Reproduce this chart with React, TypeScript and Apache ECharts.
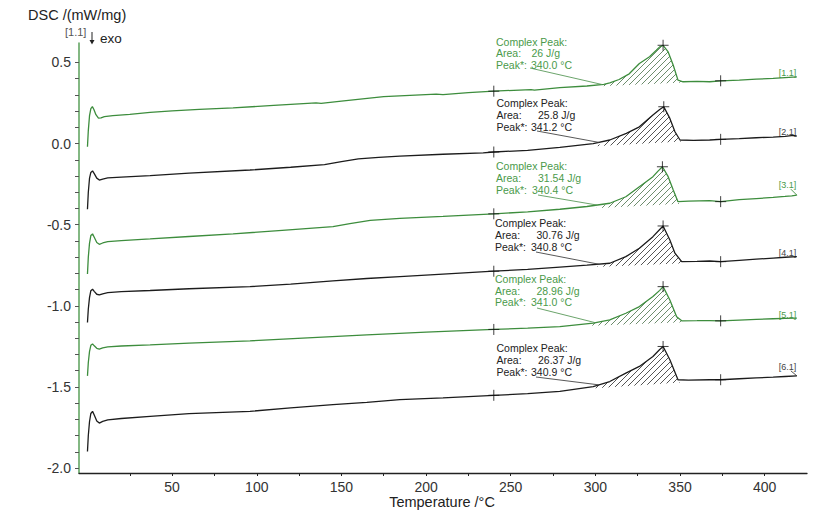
import React, { useEffect, useRef } from "react";
import * as echarts from "echarts";

// ---------- data ----------
const tempTicks = [25, 50, 75, 100, 125, 150, 175, 200, 225, 250, 275, 300, 325, 350, 375, 400];
const tempLabels = [50, 100, 150, 200, 250, 300, 350, 400];
const dscTicks = [-2.0, -1.9, -1.8, -1.7, -1.6, -1.5, -1.4, -1.3, -1.2, -1.1, -1.0, -0.9, -0.8, -0.7, -0.6, -0.5, -0.4, -0.3, -0.2, -0.1, 0.0, 0.1, 0.2, 0.3, 0.4, 0.5];
const dscLabels = [-2.0, -1.5, -1.0, -0.5, 0.0, 0.5];
const xTitle = "Temperature /°C";
const yTitle = "DSC /(mW/mg)";

const curve1: number[][] = [
  [0, -0.02], [0.5, 0.08], [1.2, 0.17], [2, 0.215], [2.9, 0.228], [3.8, 0.21], [5, 0.178], [6.5, 0.157], [8, 0.158], [10, 0.166], [15, 0.172], [25, 0.18], [37, 0.192], [50, 0.202], [66, 0.211], [86, 0.22], [110, 0.235], [135, 0.251], [138, 0.248], [150, 0.262], [175, 0.29], [206, 0.305], [210, 0.302], [225, 0.314], [240, 0.323], [262, 0.333], [264, 0.33], [279, 0.345], [295, 0.355], [305, 0.365], [308.5, 0.374], [314, 0.395], [320, 0.43], [326, 0.494], [332, 0.535], [336, 0.575], [338, 0.596], [340, 0.606], [343, 0.565], [346, 0.483], [348.8, 0.391], [351.8, 0.381], [360, 0.383], [367.5, 0.381], [374, 0.387], [385, 0.391], [395, 0.397], [405, 0.402], [412, 0.407], [419, 0.411],
];
const curve2: number[][] = [
  [0, -0.405], [0.5, -0.3], [1.2, -0.215], [2, -0.178], [3, -0.169], [4, -0.185], [5.5, -0.213], [7, -0.225], [9, -0.219], [12, -0.212], [20, -0.207], [37, -0.198], [60, -0.182], [96, -0.163], [120, -0.146], [140, -0.13], [150, -0.112], [160, -0.095], [172, -0.085], [184.5, -0.077], [210, -0.066], [233.7, -0.057], [240, -0.052], [260, -0.042], [279, -0.024], [298.7, 0.0], [308.5, 0.022], [318.3, 0.063], [326, 0.103], [334, 0.176], [338, 0.21], [340.4, 0.227], [344, 0.155], [347, 0.073], [350, 0.022], [358, 0.02], [367.5, 0.022], [374, 0.026], [385, 0.03], [395, 0.036], [405, 0.04], [412, 0.044], [417, 0.05], [419, 0.046],
];
const curve3: number[][] = [
  [0, -0.804], [0.5, -0.7], [1.2, -0.615], [2, -0.567], [3, -0.557], [4, -0.578], [5.5, -0.61], [7, -0.621], [9, -0.613], [12, -0.604], [20, -0.598], [37, -0.588], [60, -0.573], [86, -0.557], [115, -0.535], [145, -0.512], [155, -0.493], [167, -0.474], [184.5, -0.461], [210, -0.449], [240, -0.433], [260, -0.421], [279, -0.405], [295, -0.388], [308.5, -0.368], [318, -0.328], [326, -0.266], [334, -0.204], [337, -0.17], [339.6, -0.143], [343, -0.204], [346, -0.286], [348.8, -0.358], [355, -0.355], [367.5, -0.352], [374, -0.358], [385, -0.346], [395, -0.339], [405, -0.332], [412, -0.326], [416, -0.322], [419, -0.318],
];
const curve4: number[][] = [
  [0, -1.103], [0.5, -1.02], [1.2, -0.95], [2, -0.907], [3, -0.898], [4, -0.911], [5.5, -0.929], [7, -0.933], [9, -0.926], [12, -0.919], [20, -0.913], [37, -0.906], [60, -0.895], [96, -0.882], [120, -0.866], [145, -0.847], [165, -0.832], [184.5, -0.82], [210, -0.805], [240, -0.787], [260, -0.776], [279, -0.762], [295, -0.75], [308.5, -0.738], [318, -0.697], [326, -0.645], [334, -0.574], [338, -0.53], [340, -0.508], [344, -0.594], [347, -0.676], [351, -0.728], [360, -0.726], [367.5, -0.724], [374, -0.728], [385, -0.72], [395, -0.713], [405, -0.706], [412, -0.701], [419, -0.697],
];
const curve5: number[][] = [
  [0, -1.432], [0.5, -1.35], [1.2, -1.283], [2, -1.244], [3, -1.235], [4, -1.247], [5.5, -1.262], [7, -1.267], [9, -1.259], [12, -1.253], [20, -1.248], [37, -1.241], [60, -1.23], [96, -1.216], [130, -1.198], [165, -1.179], [200, -1.163], [240, -1.146], [260, -1.138], [279, -1.128], [298.7, -1.107], [308.5, -1.087], [318, -1.046], [326, -1.005], [334, -0.943], [338, -0.905], [340, -0.882], [344, -0.964], [348, -1.067], [351, -1.093], [360, -1.092], [367.5, -1.091], [374, -1.093], [385, -1.088], [395, -1.084], [405, -1.08], [412, -1.078], [419, -1.076],
];
const curve6: number[][] = [
  [0, -1.898], [0.5, -1.8], [1.2, -1.715], [2, -1.664], [3, -1.651], [4, -1.674], [5.5, -1.71], [7, -1.723], [9, -1.713], [12, -1.704], [20, -1.695], [37, -1.682], [60, -1.665], [96, -1.651], [120, -1.63], [145, -1.61], [165, -1.595], [184.5, -1.579], [210, -1.568], [240, -1.552], [260, -1.542], [279, -1.528], [298.7, -1.498], [308.5, -1.467], [318, -1.415], [326, -1.374], [334, -1.313], [338, -1.27], [340, -1.251], [344, -1.333], [348.8, -1.456], [355, -1.458], [367.5, -1.456], [374, -1.456], [385, -1.45], [395, -1.445], [405, -1.44], [412, -1.436], [419, -1.432],
];

// integration limits and peak markers: [start, peak, end]
const markers1 = [[240, 0.323], [340, 0.606], [374, 0.387]];
const markers2 = [[240, -0.052], [340.4, 0.227], [374, 0.026]];
const markers3 = [[240, -0.433], [339.6, -0.143], [374, -0.358]];
const markers4 = [[240, -0.787], [340, -0.508], [374, -0.728]];
const markers5 = [[240, -1.146], [340, -0.882], [374, -1.093]];
const markers6 = [[240, -1.552], [340, -1.251], [374, -1.456]];

const curveNames = ["[1.1]", "[2.1]", "[3.1]", "[4.1]", "[5.1]", "[6.1]"];
const peakAreas = ["26 J/g", "25.8 J/g", "31.54 J/g", "30.76 J/g", "28.96 J/g", "26.37 J/g"];
const peakTemps = ["340.0 °C", "341.2 °C", "340.4 °C", "340.8 °C", "341.0 °C", "340.9 °C"];
const hatchRanges = [[303, 352], [300, 351], [300, 350], [300, 352], [298, 352], [298, 350]];
const pointerT = [304, 302, 301, 302, 300, 302];

const curves = [curve1, curve2, curve3, curve4, curve5, curve6];
const markers = [markers1, markers2, markers3, markers4, markers5, markers6];

// ---------- styles / layout ----------
const FONT = "'Liberation Sans', Arial, Helvetica, sans-serif";
const GREEN = "#3d8d3d";
const GREEN_TXT = "#4a9a4a";
const BLACK = "#1c1c1c";
const lineColors = [GREEN, BLACK, GREEN, BLACK, GREEN, BLACK];
const textColors = [GREEN_TXT, "#222", GREEN_TXT, "#222", GREEN_TXT, "#222"];
const hatchColors = ["#6d8d6d", "#555", "#6d8d6d", "#555", "#6d8d6d", "#555"];
const annotLayout = [
  { x: 496, ys: [41.7, 53.3, 65], areaX: 531.5, peakX: 531, from: [530, 68] },
  { x: 496.5, ys: [102.7, 114.7, 126.5], areaX: 538, peakX: 531, from: [537, 131] },
  { x: 496, ys: [166, 178.3, 190], areaX: 538, peakX: 532, from: [538, 195] },
  { x: 495, ys: [222.7, 234.7, 246.7], areaX: 536.5, peakX: 531, from: [536, 252] },
  { x: 495, ys: [279.3, 290.8, 302.3], areaX: 536.5, peakX: 531, from: [537, 308] },
  { x: 496.5, ys: [348.3, 360, 371.7], areaX: 538, peakX: 531, from: [536, 377] },
];
const endLabelDy = [-4, -4.5, -10, -4, -3, -9];

function hatchPattern(color: string) {
  const s = 6;
  const c = document.createElement("canvas");
  c.width = s;
  c.height = s;
  const g = c.getContext("2d")!;
  g.strokeStyle = color;
  g.lineWidth = 1;
  g.beginPath();
  g.moveTo(0, s);
  g.lineTo(s, 0);
  g.moveTo(-1, 1);
  g.lineTo(1, -1);
  g.moveTo(s - 1, s + 1);
  g.lineTo(s + 1, s - 1);
  g.stroke();
  return { image: c, repeat: "repeat", imageWidth: s, imageHeight: s } as any;
}

function baselineAt(m: number[][], t: number) {
  const [a, , b] = m;
  return a[1] + ((b[1] - a[1]) * (t - a[0])) / (b[0] - a[0]);
}
function curveAt(c: number[][], t: number) {
  for (let i = 1; i < c.length; i++) {
    if (c[i][0] >= t) {
      const p = c[i - 1], q = c[i];
      return p[1] + ((q[1] - p[1]) * (t - p[0])) / (q[0] - p[0]);
    }
  }
  return c[c.length - 1][1];
}

export default function App() {
  const ref = useRef<HTMLDivElement>(null);
  useEffect(() => {
    if (!ref.current) return;
    const chart = echarts.init(ref.current, null, { renderer: "svg" });
    const patterns = hatchColors.map(hatchPattern);

    const series: any[] = [];
    curves.forEach((c, i) => {
      series.push({
        type: "line",
        data: c,
        symbol: "none",
        lineStyle: { color: lineColors[i], width: 1.3 },
        itemStyle: { color: lineColors[i] },
        z: 3,
        silent: true,
      });
    });
    series.push({
      type: "custom",
      coordinateSystem: "cartesian2d",
      data: curves.map((_, i) => [300, 0, i]),
      encode: { x: 0, y: 1 },
      clip: false,
      z: 2,
      silent: true,
      renderItem: (params: any, api: any) => {
        const i = params.dataIndex;
        const [ts, te] = hatchRanges[i];
        const m = markers[i];
        const pts: number[][] = [api.coord([ts, baselineAt(m, ts)])];
        curves[i].forEach(([t, v]) => {
          if (t > ts && t < te) pts.push(api.coord([t, Math.max(v, baselineAt(m, t))]));
        });
        pts.push(api.coord([te, baselineAt(m, te)]));
        return {
          type: "polygon",
          shape: { points: pts },
          style: { fill: patterns[i], stroke: null },
        };
      },
    });
    markers.forEach((m) => {
      series.push({
        type: "scatter",
        data: m,
        symbol: "path://M5 0 L5 10 M0 5 L10 5",
        symbolSize: 11,
        itemStyle: { color: "rgba(0,0,0,0)", borderColor: "#111", borderWidth: 1 },
        z: 5,
        silent: true,
      });
    });

    const baseOption: any = {
      animation: false,
      backgroundColor: "#ffffff",
      grid: { left: 79, right: 6, top: 43, bottom: 38, outerBoundsMode: "none", containLabel: false },
      xAxis: {
        type: "value",
        min: -5,
        max: 425,
        axisLine: { show: true, onZero: false, lineStyle: { color: "#222", width: 1.3 } },
        axisTick: { show: true, length: 3, customValues: tempTicks, lineStyle: { color: "#222" } },
        axisLabel: { customValues: tempLabels, fontFamily: FONT, fontSize: 14, color: "#333", margin: 7 },
        splitLine: { show: false },
      },
      yAxis: {
        type: "value",
        min: -2.031,
        max: 0.62,
        axisLine: { show: true, onZero: false, lineStyle: { color: "#5aa05a", width: 1.5 } },
        axisTick: { show: true, length: 4, customValues: dscTicks, lineStyle: { color: "#555" } },
        axisLabel: {
          customValues: dscLabels,
          fontFamily: FONT,
          fontSize: 14,
          color: "#333",
          margin: 8,
          formatter: (v: number) => v.toFixed(1),
        },
        splitLine: { show: false },
      },
      series,
    };
    chart.setOption(baseOption);

    const graphic: any[] = [
      { type: "text", x: 28, y: 15, style: { text: yTitle, font: `14.5px ${FONT}`, fill: "#222", verticalAlign: "middle" } },
      { type: "text", x: 442, y: 502, style: { text: xTitle, font: `14.5px ${FONT}`, fill: "#222", align: "center", verticalAlign: "middle" } },
      { type: "text", x: 65, y: 32, style: { text: "[1.1]", font: `11px ${FONT}`, fill: "#555", verticalAlign: "middle" } },
      { type: "line", shape: { x1: 92, y1: 32, x2: 92, y2: 43 }, style: { stroke: "#222", lineWidth: 1 } },
      { type: "polygon", shape: { points: [[89.5, 40], [94.5, 40], [92, 44.5]] }, style: { fill: "#222" } },
      { type: "text", x: 100, y: 38, style: { text: "exo", font: `13.5px ${FONT}`, fill: "#222", verticalAlign: "middle" } },
    ];
    curves.forEach((c, i) => {
      const L = annotLayout[i];
      const col = textColors[i];
      const f = `10.5px ${FONT}`;
      graphic.push(
        { type: "text", x: L.x, y: L.ys[0], style: { text: "Complex Peak:", font: f, fill: col, verticalAlign: "middle" } },
        { type: "text", x: L.x, y: L.ys[1], style: { text: "Area:", font: f, fill: col, verticalAlign: "middle" } },
        { type: "text", x: L.areaX, y: L.ys[1], style: { text: peakAreas[i], font: f, fill: col, verticalAlign: "middle" } },
        { type: "text", x: L.x, y: L.ys[2], style: { text: "Peak*:", font: f, fill: col, verticalAlign: "middle" } },
        { type: "text", x: L.peakX, y: L.ys[2], style: { text: peakTemps[i], font: f, fill: col, verticalAlign: "middle" } }
      );
      const tp = pointerT[i];
      const end = chart.convertToPixel({ gridIndex: 0 }, [tp, curveAt(c, tp)]) as number[];
      graphic.push({
        type: "line",
        shape: { x1: L.from[0], y1: L.from[1], x2: end[0], y2: end[1] },
        style: { stroke: i % 2 === 0 ? "#5a9a5a" : "#444", lineWidth: 0.9 },
        z: 10,
      });
      const last = c[c.length - 1];
      const pe = chart.convertToPixel({ gridIndex: 0 }, last) as number[];
      graphic.push({
        type: "text",
        x: pe[0] - 0.5,
        y: pe[1] + endLabelDy[i],
        style: { text: curveNames[i], font: `9px ${FONT}`, fill: i % 2 === 0 ? GREEN_TXT : "#444", align: "right", verticalAlign: "middle" },
      });
      if (i === 2 || i === 5) {
        graphic.push({
          type: "line",
          shape: { x1: pe[0] - 6, y1: pe[1] + endLabelDy[i] + 4, x2: pe[0], y2: pe[1] },
          style: { stroke: i % 2 === 0 ? GREEN : "#444", lineWidth: 0.9 },
        });
      }
    });
    chart.setOption({ graphic });

    return () => chart.dispose();
  }, []);
  return <div ref={ref} style={{ position: "fixed", left: 0, top: 0, width: 813, height: 511, background: "#fff" }} />;
}
